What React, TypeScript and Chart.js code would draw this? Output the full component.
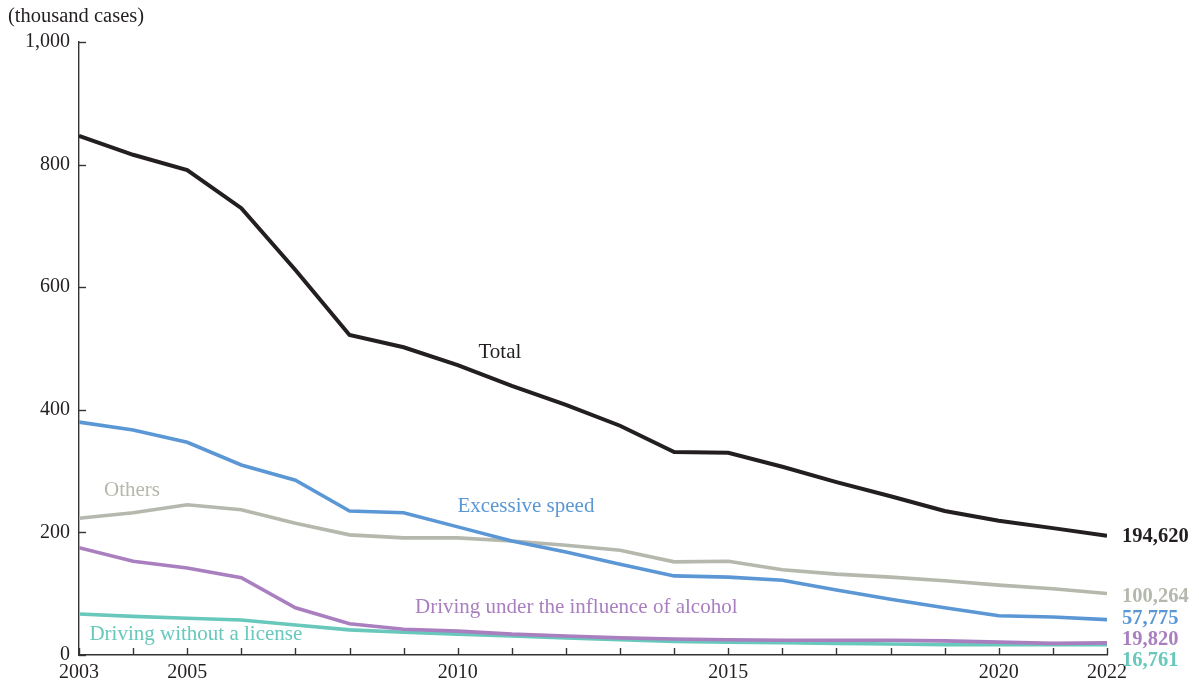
import React, { useEffect, useRef } from "react";
import { Chart, registerables } from "chart.js";

Chart.register(...registerables);

const YEARS = [2003, 2004, 2005, 2006, 2007, 2008, 2009, 2010, 2011, 2012, 2013, 2014, 2015, 2016, 2017, 2018, 2019, 2020, 2021, 2022];
const X_TICKS = [2003, 2005, 2010, 2015, 2020, 2022];
const Y_TICKS = [0, 200, 400, 600, 800, 1000];

const TOTAL = [847, 816, 791, 729, 628, 522, 502, 473, 439, 408, 374, 331, 330, 307, 282, 259, 235, 219, 207, 194.62];
const SPEED = [380, 367, 347, 310, 285, 235, 232, 209, 186, 168, 148, 129, 127, 122, 106, 91, 77, 64, 62, 57.775];
const OTHERS = [223, 232, 245, 237, 215, 196, 191, 191, 186, 179, 171, 152, 153, 139, 132, 127, 121, 114, 108, 100.264];
const DUI = [175, 153, 142, 126, 77, 51, 42, 39, 34, 31, 28, 26, 25, 24, 24, 24, 23, 21, 19, 19.82];
const NO_LICENSE = [67, 63, 60, 57, 49, 41, 37, 34, 31, 28, 25, 22, 21, 20, 19, 18, 17, 17, 17, 16.761];

const SERIES_NAMES = ["Total", "Excessive speed", "Others", "Driving under the influence of alcohol", "Driving without a license"];
const END_LABELS = ["194,620", "57,775", "100,264", "19,820", "16,761"];
const COLORS = ["#231f20", "#5b97d5", "#b4b8ad", "#a97fc0", "#68c8bc"];

// label anchor positions in data coordinates [year, value]
const NAME_POS: [number, number][] = [
  [2010.78, 494],
  [2011.26, 243],
  [2003.98, 269],
  [2012.19, 78],
  [2005.16, 33],
];
// vertical pixel nudges for end labels to avoid overlap
const END_NUDGE = [1, -1, 3, -3, 16];

const FONT = '"Liberation Serif", "Times New Roman", serif';

export default function App() {
  const ref = useRef<HTMLCanvasElement | null>(null);
  useEffect(() => {
    if (!ref.current) return;
    const seriesData = [TOTAL, SPEED, OTHERS, DUI, NO_LICENSE];
    const overlay = {
      id: "overlay",
      afterDatasetsDraw(chart: any) {
        const ctx = chart.ctx;
        const xs = chart.scales.x;
        const ys = chart.scales.y;
        const area = chart.chartArea;
        ctx.save();
        // inner tick marks
        ctx.strokeStyle = "#333333";
        ctx.lineWidth = 1.4;
        YEARS.forEach((yr) => {
          const px = Math.round(xs.getPixelForValue(yr)) + 0.5;
          ctx.beginPath();
          ctx.moveTo(px, area.bottom);
          ctx.lineTo(px, area.bottom - 7);
          ctx.stroke();
        });
        Y_TICKS.forEach((v) => {
          const py = Math.round(ys.getPixelForValue(v)) + 0.5;
          ctx.beginPath();
          ctx.moveTo(area.left, py);
          ctx.lineTo(area.left + 7, py);
          ctx.stroke();
        });
        // unit label
        ctx.fillStyle = "#231f20";
        ctx.font = "20.5px " + FONT;
        ctx.textAlign = "left";
        ctx.textBaseline = "middle";
        ctx.fillText("(thousand cases)", 8, 17);
        // series names
        ctx.font = "21px " + FONT;
        ctx.textAlign = "center";
        SERIES_NAMES.forEach((name, i) => {
          const [yr, v] = NAME_POS[i];
          ctx.fillStyle = COLORS[i];
          ctx.fillText(name, xs.getPixelForValue(yr), ys.getPixelForValue(v));
        });
        // end labels
        ctx.font = "bold 20.5px " + FONT;
        ctx.textAlign = "left";
        END_LABELS.forEach((lab, i) => {
          const d = seriesData[i];
          const py = ys.getPixelForValue(d[d.length - 1]) + END_NUDGE[i];
          ctx.fillStyle = COLORS[i];
          ctx.fillText(lab, area.right + 15, py);
        });
        ctx.restore();
      },
    };
    const chart = new Chart(ref.current, {
      type: "line",
      data: {
        datasets: seriesData.map((d, i) => ({
          label: SERIES_NAMES[i],
          data: d.map((v, j) => ({ x: YEARS[j], y: v })),
          borderColor: COLORS[i],
          backgroundColor: COLORS[i],
          borderWidth: i === 0 ? 4 : 3.6,
          pointRadius: 0,
          tension: 0,
          fill: false,
        })),
      },
      options: {
        responsive: false,
        animation: false,
        layout: { padding: { top: 42, right: 92, left: 0, bottom: 0 } },
        plugins: { legend: { display: false }, tooltip: { enabled: false } },
        scales: {
          x: {
            type: "linear",
            min: 2003,
            max: 2022,
            afterFit: (s: any) => { s.height = 33; },
            afterBuildTicks: (s: any) => { s.ticks = X_TICKS.map((v) => ({ value: v })); },
            grid: { display: false, drawTicks: false },
            border: { display: true, color: "#333333", width: 1.4 },
            ticks: {
              padding: 6,
              color: "#231f20",
              font: { family: FONT, size: 20 },
              maxRotation: 0,
              autoSkip: false,
              callback: (v: any) => String(v),
            },
          },
          y: {
            min: 0,
            max: 1000,
            afterFit: (s: any) => { s.width = 79; },
            afterBuildTicks: (s: any) => { s.ticks = Y_TICKS.map((v) => ({ value: v })); },
            grid: { display: false, drawTicks: false },
            border: { display: true, color: "#333333", width: 1.4 },
            ticks: {
              padding: 9,
              color: "#231f20",
              font: { family: FONT, size: 20 },
              callback: (v: any) => Number(v).toLocaleString("en-US"),
            },
          },
        },
      },
      plugins: [overlay],
    });
    return () => chart.destroy();
  }, []);
  return (
    <div style={{ position: "absolute", left: 0, top: 0, width: 1199, height: 688, background: "#fff" }}>
      <canvas ref={ref} width={1199} height={688} />
    </div>
  );
}
